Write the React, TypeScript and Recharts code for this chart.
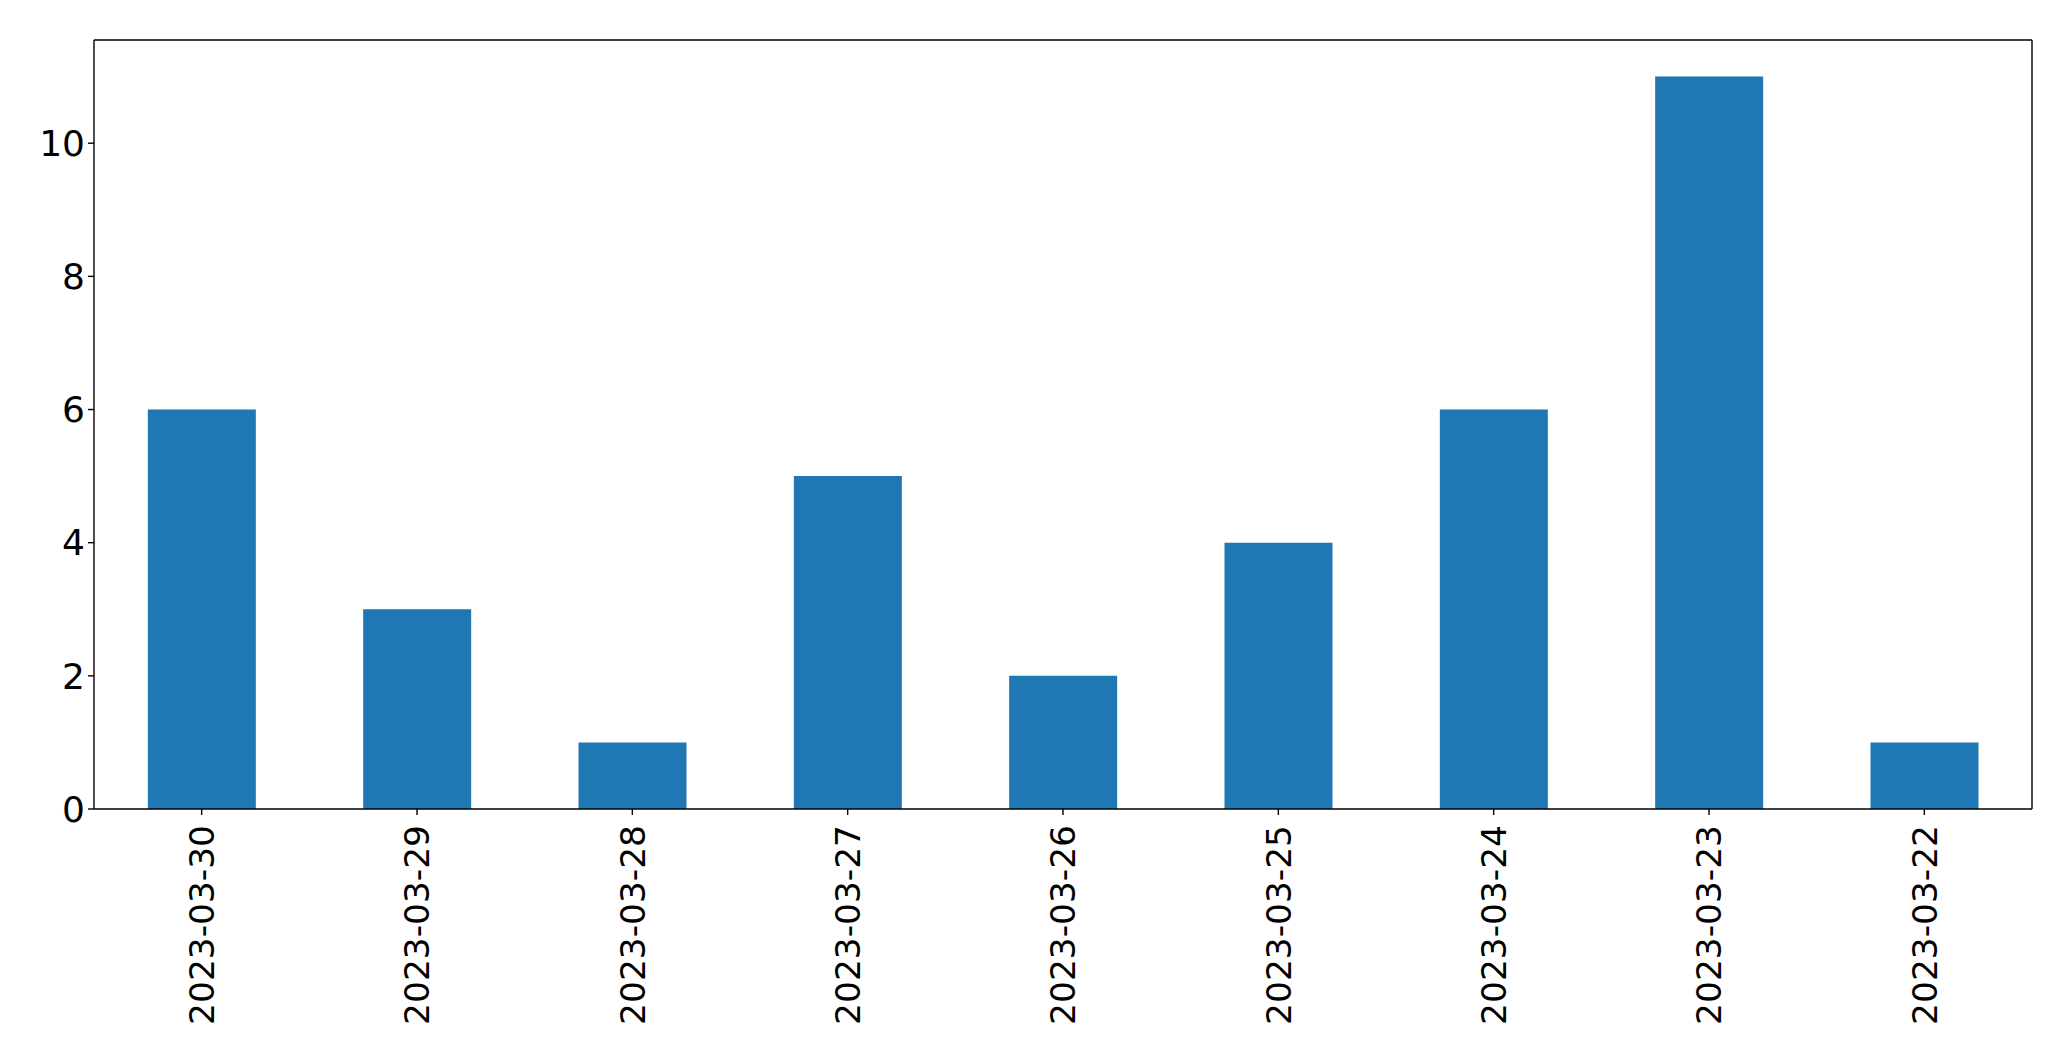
import { Bar, BarChart, XAxis, YAxis } from "recharts";

const days = [
  "2023-03-30",
  "2023-03-29",
  "2023-03-28",
  "2023-03-27",
  "2023-03-26",
  "2023-03-25",
  "2023-03-24",
  "2023-03-23",
  "2023-03-22",
];
const counts = [6, 3, 1, 5, 2, 4, 6, 11, 1];
const yTicks = [0, 2, 4, 6, 8, 10];

const data = days.map((day, i) => ({ day, count: counts[i] }));

const font = "DejaVu Sans, sans-serif";
const line = { stroke: "#000", strokeWidth: 1.4 };

function DateTick({ x, y, payload }: any) {
  return (
    <text
      x={x}
      y={y}
      transform={`rotate(-90, ${x}, ${y})`}
      textAnchor="end"
      dy="0.36em"
      fontFamily={font}
      fontSize={34.4}
      fill="#000"
    >
      {payload.value}
    </text>
  );
}

export default function App() {
  return (
    <div style={{ position: "absolute", left: 0, top: 0, background: "#fff" }}>
      <BarChart
        width={2071}
        height={1061}
        data={data}
        barCategoryGap="25%"
        margin={{ top: 39, right: 38, left: 0, bottom: 12 }}
      >
        <XAxis
          dataKey="day"
          height={240}
          axisLine={line}
          tickLine={line}
          tickSize={6}
          tickMargin={10}
          interval={0}
          tick={<DateTick />}
        />
        <XAxis
          xAxisId="top"
          dataKey="day"
          orientation="top"
          height={1}
          axisLine={line}
          tick={false}
          tickLine={false}
        />
        <YAxis
          type="number"
          domain={[0, 11.55]}
          ticks={yTicks}
          width={94}
          axisLine={line}
          tickLine={line}
          tickSize={6}
          tickMargin={3}
          tick={{ fill: "#000", fontSize: 36, fontFamily: font }}
        />
        <YAxis
          yAxisId="right"
          orientation="right"
          type="number"
          domain={[0, 11.55]}
          width={1}
          axisLine={line}
          tick={false}
          tickLine={false}
        />
        <Bar dataKey="count" fill="#1f77b4" isAnimationActive={false} />
      </BarChart>
    </div>
  );
}
